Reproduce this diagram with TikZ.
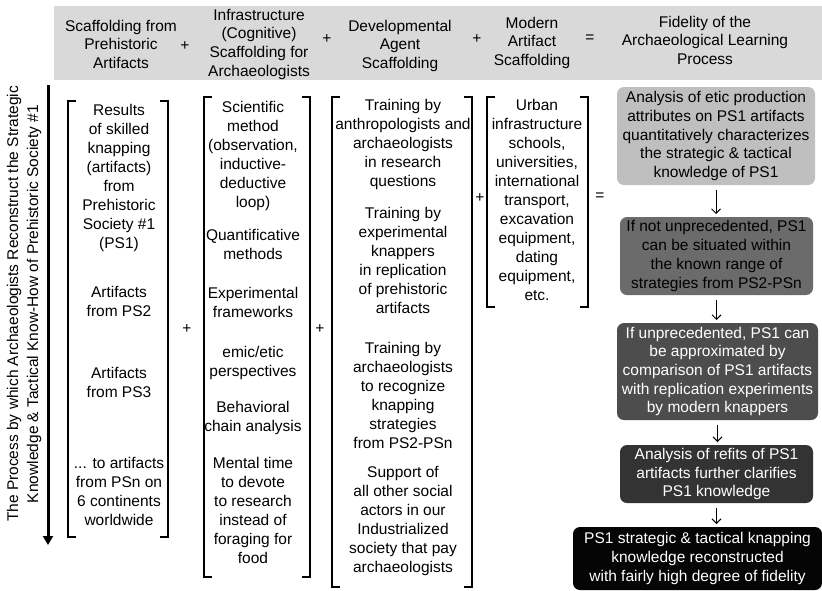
\documentclass[tikz,border=0pt]{standalone}
\usepackage{fontspec}
\setmainfont{Liberation Sans}
\usetikzlibrary{arrows.meta}
\definecolor{bandgray}{HTML}{D9D9D9}
\definecolor{stepA}{HTML}{BFBFBF}
\definecolor{stepB}{HTML}{6B6B6B}
\definecolor{stepC}{HTML}{4D4D4D}
\definecolor{stepD}{HTML}{333333}
\definecolor{stepE}{HTML}{050505}
% square brackets drawn on the left and right sides of a column node
\newcommand\squarebrackets[1]{%
  \draw[brk] ([xshift=8pt]#1.north west) -- (#1.north west) -- (#1.south west) -- ([xshift=8pt]#1.south west);
  \draw[brk] ([xshift=-8pt]#1.north east) -- (#1.north east) -- (#1.south east) -- ([xshift=-8pt]#1.south east);}
\begin{document}
\begin{tikzpicture}[x=1pt,y=-1pt,
  every node/.style={inner sep=0pt,outer sep=0pt},
  base/.style={font=\fontsize{15.5}{19}\selectfont},
  txt/.style={base,align=center,anchor=north},
  head/.style={align=center,anchor=north,font=\fontsize{15.5}{18.7}\selectfont},
  op/.style={base},
  colframe/.style 2 args={minimum width=#1,minimum height=#2},
  brk/.style={line width=1.2pt},
  stepbox/.style={rounded corners=7pt,align=center,font=\fontsize{15.5}{18.7}\selectfont},
  flow/.style={line width=1pt,-{Straight Barb[length=4.5pt,width=9pt]},shorten <=5pt,shorten >=3pt}]

\useasboundingbox (0,0) rectangle (822,590);

% header band with the equation terms
\node[fill=bandgray,minimum width=768pt,minimum height=74pt] (band) at (438,43) {};
\node[head] (h1) at (121,20) {Scaffolding from\\Prehistoric\\Artifacts};
\node[op] (hp1) at (185,46) {+};
\node[head] (h2) at (259,9) {Infrastructure\\(Cognitive)\\Scaffolding for\\Archaeologists};
\node[op] (hp2) at (327,39) {+};
\node[head] (h3) at (400,20) {Developmental\\Agent\\Scaffolding};
\node[op] (hp3) at (477,39) {+};
\node[head] (h4) at (532,17) {Modern\\Artifact\\Scaffolding};
\node[op] (heq) at (590,39) {=};
\node[head] (h5) at (705,16) {Fidelity of the\\Archaeological Learning\\Process};

% vertical process label and arrow
\node[align=center,rotate=90,font=\fontsize{15.5}{20}\selectfont] (vt) at (24,304)
  {The Process by which Archaeologists Reconstruct the Strategic\\Knowledge \& Tactical Know-How of Prehistoric Society \#1};
\coordinate (vtop) at (48,85);
\coordinate (vbot) at (48,545);
\draw[line width=3pt,-{Triangle[length=9pt,width=10pt]}] (vtop) -- (vbot);

% column 1: prehistoric artifacts
\node[colframe={100pt}{436pt}] (c1) at (118,319) {};
\squarebrackets{c1}
\node[txt] (c1a) at (119,104) {Results\\of skilled\\knapping\\(artifacts)\\from\\Prehistoric\\Society \#1\\(PS1)};
\node[txt] (c1b) at (119,286) {Artifacts\\from PS2};
\node[txt] (c1c) at (119,367) {Artifacts\\from PS3};
\node[txt] (c1d) at (119,457) {... to artifacts\\from PSn on\\6 continents\\worldwide};

\node[op] (p1) at (187,329) {+};

% column 2: cognitive scaffolding
\node[colframe={106pt}{480pt}] (c2) at (257,337) {};
\squarebrackets{c2}
\node[txt] (c2a) at (253,101) {Scientific\\method\\(observation,\\inductive-\\deductive\\loop)};
\node[txt] (c2b) at (253,229) {Quantificative\\methods};
\node[txt] (c2c) at (253,287) {Experimental\\frameworks};
\node[txt] (c2d) at (253,346) {emic/etic\\perspectives};
\node[txt] (c2e) at (253,401) {Behavioral\\chain analysis};
\node[txt] (c2f) at (253,457) {Mental time\\to devote\\to research\\instead of\\foraging for\\food};

\node[op] (p2) at (320,329) {+};

% column 3: developmental agents
\node[colframe={140pt}{490pt}] (c3) at (402,342) {};
\squarebrackets{c3}
\node[txt] (c3a) at (403,99) {Training by\\anthropologists and\\archaeologists\\in research\\questions};
\node[txt] (c3b) at (403,207) {Training by\\experimental\\knappers\\in replication\\of prehistoric\\artifacts};
\node[txt] (c3c) at (403,342) {Training by\\archaeologists\\to recognize\\knapping\\strategies\\from PS2-PSn};
\node[txt] (c3d) at (403,466) {Support of\\all other social\\actors in our\\Industrialized\\society that pay\\archaeologists};

\node[op] (p3) at (480,198) {+};

% column 4: modern artifacts
\node[colframe={101pt}{210pt}] (c4) at (537.5,202) {};
\squarebrackets{c4}
\node[txt] (c4a) at (537,99) {Urban\\infrastructure\\schools,\\universities,\\international\\transport,\\excavation\\equipment,\\dating\\equipment,\\etc.};

\node[op] (eq) at (600,197) {=};

% fidelity steps
\node[stepbox,fill=stepA,minimum width=198pt,minimum height=98pt] (s1) at (716,136)
  {Analysis of etic production\\attributes on PS1 artifacts\\quantitatively characterizes\\the strategic \& tactical\\knowledge of PS1};
\node[stepbox,fill=stepB,minimum width=193pt,minimum height=78pt] (s2) at (716.5,256)
  {If not unprecedented, PS1\\can be situated within\\the known range of\\strategies from PS2-PSn};
\node[stepbox,fill=stepC,text=white,minimum width=201pt,minimum height=97pt] (s3) at (717.5,371.5)
  {If unprecedented, PS1 can\\be approximated by\\comparison of PS1 artifacts\\with replication experiments\\by modern knappers};
\node[stepbox,fill=stepD,text=white,minimum width=193pt,minimum height=58pt] (s4) at (716.5,474)
  {Analysis of refits of PS1\\artifacts further clarifies\\PS1 knowledge};
\node[stepbox,fill=stepE,text=white,minimum width=249pt,minimum height=63pt] (s5) at (697.5,558.5)
  {PS1 strategic \& tactical knapping\\knowledge reconstructed\\with fairly high degree of fidelity};

\draw[flow] (s1.south) -- (s1.south |- s2.north);
\draw[flow] (s2.south) -- (s2.south |- s3.north);
\draw[flow] (s3.south) -- (s3.south |- s4.north);
\draw[flow] (s4.south) -- (s4.south |- s5.north);
\end{tikzpicture}
\end{document}
